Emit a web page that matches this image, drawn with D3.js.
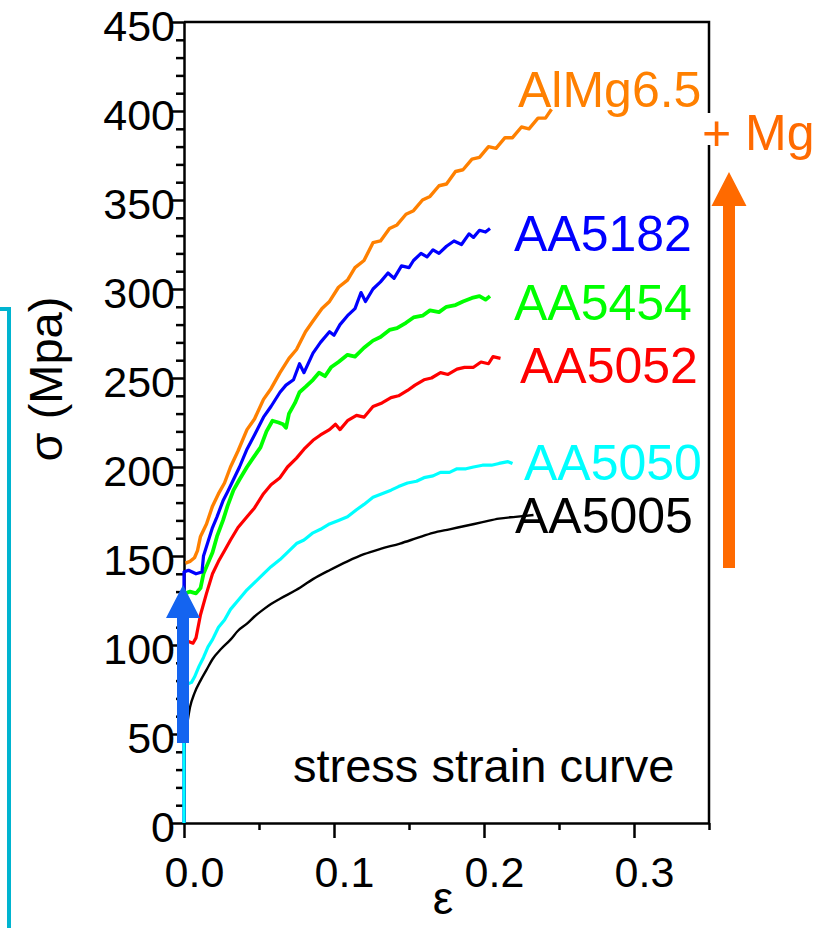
<!DOCTYPE html>
<html>
<head>
<meta charset="utf-8">
<script src="https://cdn.jsdelivr.net/npm/d3@7"></script>
<style>
  body { margin: 0; background: #fff; }
  svg text { font-family: "Liberation Sans", Arial, sans-serif; }
</style>
</head>
<body>
<svg width="820" height="928"></svg>
<script>
/* ================================ Data (strain, stress in MPa) ================================ */
let AlMg65 = [
  [0.001,146],[0.004,147],[0.007,149],[0.009,153],[0.011,161],[0.015,168],[0.019,178],[0.023,185],
  [0.027,191],[0.031,200],[0.036,209],[0.042,221],[0.047,227],[0.053,238],[0.058,244],[0.064,253],
  [0.070,261],[0.075,266],[0.081,276],[0.086,282],[0.092,289],[0.097,293],[0.103,301],[0.109,305],
  [0.114,312],[0.120,316],[0.126,326],[0.131,327],[0.137,334],[0.142,336],[0.148,342],[0.153,344],
  [0.159,350],[0.164,352],[0.170,358],[0.175,359],[0.181,366],[0.186,367],[0.192,373],[0.197,374],
  [0.203,380],[0.208,379],[0.214,385],[0.219,385],[0.225,391],[0.230,390],[0.236,396],[0.241,396],[0.245,401]
];
let AA5182 = [
  [0,0],[0,141],[0.003,142],[0.008,140],[0.012,141],[0.013,150],[0.016,158],[0.019,166],[0.022,172],
  [0.026,181],[0.029,186],[0.033,193],[0.037,200],[0.042,210],[0.047,218],[0.053,228],[0.058,234],
  [0.064,242],[0.068,246],[0.073,249],[0.077,258],[0.080,253],[0.086,264],[0.091,270],[0.097,276],
  [0.100,274],[0.104,280],[0.109,285],[0.114,289],[0.118,298],[0.121,293],[0.126,300],[0.131,304],
  [0.136,309],[0.140,306],[0.145,313],[0.150,312],[0.153,316],[0.158,320],[0.162,318],[0.166,322],
  [0.170,320],[0.175,324],[0.180,327],[0.185,325],[0.190,331],[0.193,329],[0.197,333],[0.201,332],[0.204,334]
];
let AA5454 = [
  [0.001,129],[0.004,130],[0.008,129],[0.011,132],[0.013,140],[0.016,146],[0.019,152],[0.022,161],
  [0.026,170],[0.029,178],[0.033,187],[0.037,193],[0.042,200],[0.046,205],[0.051,211],[0.055,220],
  [0.059,226],[0.063,225],[0.066,224],[0.068,222],[0.070,230],[0.074,236],[0.077,242],[0.081,245],
  [0.086,249],[0.090,253],[0.094,251],[0.098,256],[0.103,259],[0.109,263],[0.114,262],[0.120,267],
  [0.126,271],[0.131,273],[0.137,277],[0.142,278],[0.148,281],[0.153,284],[0.159,285],[0.164,288],
  [0.170,287],[0.175,290],[0.181,291],[0.186,293],[0.192,295],[0.197,296],[0.201,294],[0.204,296]
];
let AA5052 = [
  [0.003,102],[0.006,101],[0.008,104],[0.011,117],[0.015,129],[0.019,140],[0.023,147],[0.027,153],
  [0.031,159],[0.036,166],[0.042,172],[0.047,177],[0.053,185],[0.058,190],[0.064,194],[0.069,200],
  [0.075,205],[0.080,210],[0.086,215],[0.091,218],[0.097,221],[0.101,224],[0.104,221],[0.109,226],
  [0.115,229],[0.120,228],[0.126,234],[0.132,236],[0.138,239],[0.143,240],[0.149,243],[0.154,246],
  [0.160,249],[0.165,250],[0.171,253],[0.176,252],[0.182,255],[0.187,256],[0.193,256],[0.198,259],
  [0.203,258],[0.206,262],[0.211,261]
];
let AA5050 = [
  [0,0],[0,79],[0.002,78],[0.005,79],[0.007,82],[0.010,88],[0.013,93],[0.016,99],[0.019,103],
  [0.023,110],[0.027,114],[0.031,120],[0.036,125],[0.042,131],[0.047,135],[0.053,140],[0.058,144],
  [0.064,148],[0.069,152],[0.075,157],[0.080,159],[0.086,163],[0.091,165],[0.097,168],[0.103,170],
  [0.109,172],[0.115,176],[0.120,179],[0.126,183],[0.132,185],[0.138,187],[0.143,189],[0.149,191],
  [0.155,192],[0.160,194],[0.166,195],[0.171,197],[0.177,197],[0.182,199],[0.188,199],[0.193,200],
  [0.199,201],[0.205,201],[0.210,202],[0.216,203],[0.219,202]
];
let AA5005 = [
  [0,40],[0.001,50],[0.002,55],[0.004,65],[0.007,73],[0.011,80],[0.015,86],[0.019,92],[0.025,98],
  [0.031,103],[0.036,108],[0.042,112],[0.047,116],[0.053,120],[0.058,123],[0.064,126],[0.075,131],
  [0.086,137],[0.097,142],[0.109,147],[0.120,151],[0.131,154],[0.144,157],[0.155,160],[0.166,163],
  [0.177,165],[0.188,167],[0.199,169],[0.210,171],[0.221,172],[0.233,173]
];

let xMajorTicks = [0, 0.1, 0.2, 0.3];
let xMinorTicks = [0.05, 0.15, 0.25, 0.35];
let yMajorTicks = d3.range(0, 451, 50);
let yMinorTicks = d3.range(10, 450, 10).filter(v => v % 50 !== 0);

// drawing order: later ones on top
let series = [
  { name: 'AA5005',  data: AA5005, color: '#000000', width: 2.4, smooth: true },
  { name: 'AA5052',  data: AA5052, color: '#ff0000', width: 3.2 },
  { name: 'AA5454',  data: AA5454, color: '#00ff00', width: 3.8 },
  { name: 'AlMg6.5', data: AlMg65, color: '#ff8000', width: 3.4 },
  { name: 'AA5182',  data: AA5182, color: '#0000ff', width: 3.2 },
  { name: 'AA5050',  data: AA5050, color: '#00ffff', width: 3.2 }
];

// label placement (pixels, left edge + baseline)
let labelPos = {
  'AlMg6.5': [518, 107], 'AA5182': [514, 251], 'AA5454': [514, 320],
  'AA5052':  [520, 383], 'AA5050': [524, 480], 'AA5005': [515, 533]
};

/* ================================ Scales & axes ================================ */
let svg = d3.select("svg");

let x = d3.scaleLinear().domain([0, 0.35]).range([184, 709]);
let y = d3.scaleLinear().domain([0, 450]).range([823, 22]);

// left cyan bracket
svg.append("path")
   .attr("d", "M0,309 H9 V928")
   .attr("fill", "none")
   .attr("stroke", "#00b4d0")
   .attr("stroke-width", 4);

// frame (top + right)
svg.append("path")
   .attr("d", `M${x(0)},${y(450)} H${x(0.35)} V${y(0)}`)
   .attr("fill", "none")
   .attr("stroke", "#000")
   .attr("stroke-width", 2.5);

let xAxis = svg.append("g")
   .attr("transform", `translate(0,${y(0)})`)
   .call(d3.axisBottom(x).tickValues(xMajorTicks).tickSize(15).tickSizeOuter(0).tickFormat(d3.format(".1f")));
xAxis.selectAll("text")
   .attr("y", 64).attr("dy", null).attr("x", 10)
   .attr("font-size", 43).attr("fill", "#000");

svg.append("g")
   .attr("transform", `translate(0,${y(0)})`)
   .call(d3.axisBottom(x).tickValues(xMinorTicks).tickSize(7).tickSizeOuter(0).tickFormat(""))
   .select(".domain").remove();

let yAxis = svg.append("g")
   .attr("transform", `translate(${x(0)},0)`)
   .call(d3.axisLeft(y).tickValues(yMajorTicks).tickSize(12).tickSizeOuter(0));
yAxis.selectAll("text")
   .attr("x", -9).attr("dy", null).attr("y", 18)
   .attr("font-size", 43).attr("fill", "#000");

svg.append("g")
   .attr("transform", `translate(${x(0)},0)`)
   .call(d3.axisLeft(y).tickValues(yMinorTicks).tickSize(8).tickSizeOuter(0).tickFormat(""))
   .select(".domain").remove();

svg.selectAll(".domain, .tick line")
   .attr("stroke", "#000")
   .attr("stroke-width", 2.5);

/* ================================ Curves ================================ */
let line = d3.line().x(d => x(d[0])).y(d => y(d[1]));
let smoothLine = d3.line().x(d => x(d[0])).y(d => y(d[1])).curve(d3.curveMonotoneX);

svg.append("g")
   .selectAll("path")
   .data(series)
   .enter()
   .append("path")
   .attr("d", d => (d.smooth ? smoothLine : line)(d.data))
   .attr("fill", "none")
   .attr("stroke", d => d.color)
   .attr("stroke-width", d => d.width)
   .attr("stroke-linejoin", "round");

svg.append("g")
   .selectAll("text")
   .data(series)
   .enter()
   .append("text")
   .attr("x", d => labelPos[d.name][0])
   .attr("y", d => labelPos[d.name][1])
   .attr("font-size", 50)
   .attr("fill", d => d.color)
   .text(d => d.name);

/* ================================ Arrows & notes ================================ */
function arrow(cx, yBottom, yTip, headBase, headW, shaftW, color)
{
  let p = [
    [cx - shaftW / 2, yBottom], [cx - shaftW / 2, headBase], [cx - headW / 2, headBase],
    [cx, yTip], [cx + headW / 2, headBase], [cx + shaftW / 2, headBase], [cx + shaftW / 2, yBottom]
  ];
  svg.append("path")
     .attr("d", "M" + p.map(q => q.join(",")).join("L") + "Z")
     .attr("fill", color);
}
arrow(183, 743, 585, 618, 34, 12, "#1464f0");
arrow(729, 568, 172, 206, 35, 12, "#ff6a00");

// white patch behind "+ Mg" breaks the right frame line
let mgBack = svg.append("rect").attr("fill", "#fff");
let mg = svg.append("text")
   .attr("x", 702).attr("y", 150)
   .attr("font-size", 50)
   .attr("fill", "#ff6a00")
   .text("+ Mg");
let bb = mg.node().getBBox();
mgBack.attr("x", bb.x).attr("y", bb.y + 8)
      .attr("width", bb.width).attr("height", bb.height - 24);

svg.append("text")
   .attr("x", 293).attr("y", 782)
   .attr("font-size", 47)
   .attr("fill", "#000")
   .text("stress strain curve");

svg.append("text")
   .attr("transform", "translate(62,379) rotate(-90)")
   .attr("text-anchor", "middle")
   .attr("font-size", 47)
   .attr("fill", "#000")
   .text("σ (Mpa)");

svg.append("text")
   .attr("x", 443).attr("y", 914)
   .attr("text-anchor", "middle")
   .attr("font-size", 46)
   .attr("fill", "#000")
   .text("ε");
</script>
</body>
</html>
